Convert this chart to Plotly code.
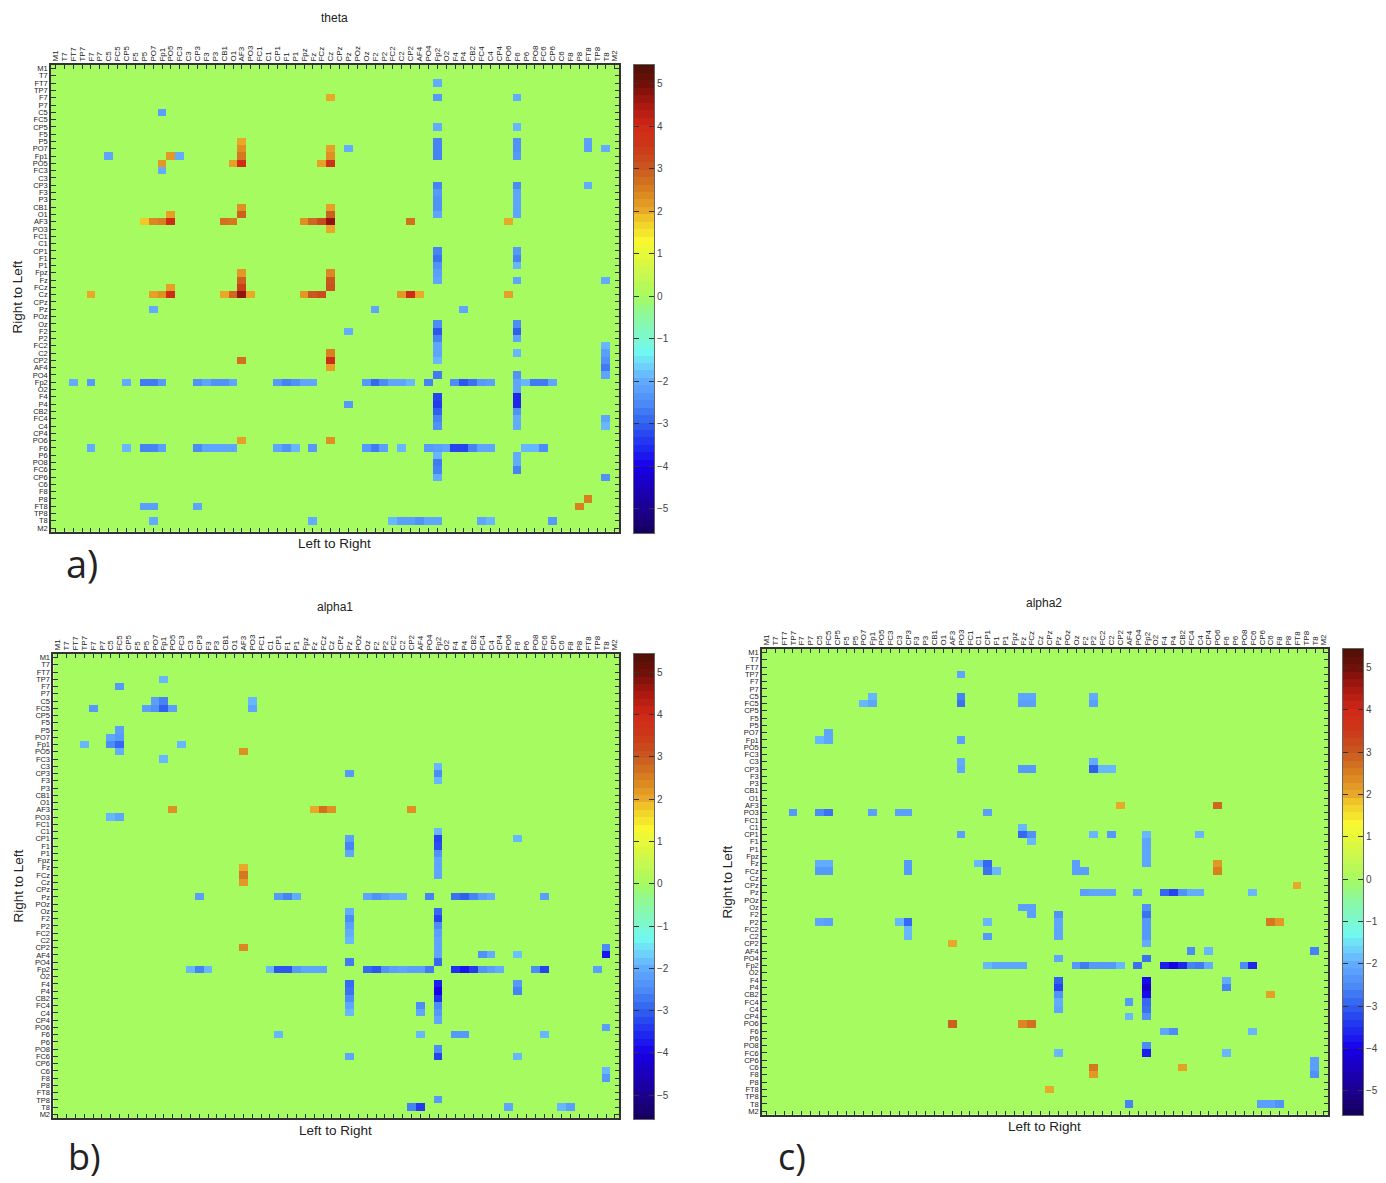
import numpy as np
import plotly.graph_objects as go

W, H = 1386, 1183

channels = ["M1","T7","FT7","TP7","F7","P7","C5","FC5","CP5","F5","P5","PO7","Fp1","PO5","FC3","C3",
            "CP3","F3","P3","CB1","O1","AF3","PO3","FC1","C1","CP1","F1","P1","Fpz","Fz","FCz","Cz",
            "CPz","Pz","POz","Oz","F2","P2","FC2","C2","CP2","AF4","PO4","Fp2","O2","F4","P4","CB2",
            "FC4","C4","CP4","PO6","F6","P6","PO8","FC6","CP6","C6","F8","P8","FT8","TP8","T8","M2"]

# (row, first column, values running along the row)
theta_h = [
    (4,31,[2.0]),(6,12,[-2.2]),(11,33,[-2.0]),(11,62,[-2.0]),(12,6,[-2.1]),(12,13,[2.2,-2.0]),
    (13,12,[2.2]),(13,20,[2.1,3.8]),(13,30,[2.1,3.7]),(14,12,[-2.0]),(16,60,[-2.0]),
    (20,13,[2.1]),(21,10,[1.8,2.4,2.5,3.9]),(21,19,[2.7,2.6]),(21,28,[2.3,2.8,3.2,4.7]),
    (21,40,[2.7]),(21,51,[2.0]),(22,31,[2.0]),(29,62,[-2.0]),(30,13,[2.1]),
    (31,4,[2.0]),(31,11,[2.1,2.3,3.8]),(31,19,[2.0,2.8,4.7,2.0]),(31,28,[2.2,3.0,3.2]),
    (31,39,[2.2,3.9,2.0]),(31,51,[2.1]),(33,11,[-2.0]),(33,36,[-2.1]),(33,46,[-2.1]),
    (36,33,[-2.0]),(39,52,[-1.9]),(40,21,[2.7]),(42,43,[-2.7]),
    (43,2,[-2.0]),(43,4,[-2.3]),(43,8,[-2.0]),(43,10,[-2.7,-2.7,-2.3]),(43,16,[-2.4,-2.1,-2.4,-2.4,-2.1]),
    (43,25,[-2.3,-2.6,-2.4,-2.1,-2.1]),(43,35,[-2.3,-2.9,-2.5,-2.1,-2.1,-1.9]),(43,42,[-2.6]),
    (43,45,[-2.5,-3.1,-2.8,-2.3,-2.2]),(43,53,[-1.9,-2.7,-2.7,-2.1]),(46,33,[-2.3]),
    (51,21,[2.1]),(51,31,[2.3]),(52,4,[-2.0]),(52,8,[-1.9]),(52,10,[-2.6,-2.6,-2.2]),
    (52,16,[-2.5,-2.1,-2.1,-2.1,-2.1]),(52,25,[-2.1,-2.4,-1.9]),(52,29,[-2.3]),(52,35,[-2.3,-2.7,-2.2]),
    (52,39,[-1.9]),(52,42,[-2.3,-2.2,-2.1,-3.3,-3.3,-2.6,-2.1,-2.1]),(52,53,[-1.9,-1.9,-2.5]),
    (56,62,[-2.4]),(59,60,[2.5]),(60,59,[2.5]),(60,10,[-2.2,-2.2]),(60,16,[-2.1]),
    (62,11,[-2.0]),(62,29,[-2.0]),(62,38,[-1.9,-2.2,-2.2,-2.4,-2.1,-2.1]),(62,48,[-2.1,-1.9]),(62,56,[-2.3]),
]
# (column, first row, values running down the column)
theta_v = [
    (43,2,[-2.0]),(43,4,[-2.3]),(52,4,[-2.0]),(43,8,[-2.0]),(52,8,[-1.9]),
    (21,10,[2.0,2.3,2.6,3.8]),(31,11,[2.1,2.3,3.7]),(43,10,[-2.6,-2.6,-2.6]),(52,10,[-2.4,-2.4,-2.3]),
    (60,10,[-2.2,-2.2]),(62,11,[-2.0]),(43,16,[-2.6,-2.3,-2.4,-2.4,-2.1]),(52,16,[-2.5,-2.1,-2.1,-2.1,-2.1]),
    (21,19,[2.3,2.9]),(31,19,[2.1,2.9,4.7,2.0]),(43,25,[-2.6,-2.8,-2.4,-2.2,-2.1]),(52,25,[-2.3,-2.6,-1.9]),
    (52,29,[-2.1]),(21,28,[2.2,2.9,3.4,4.7]),(31,28,[2.4,3.0,3.1]),
    (43,35,[-2.5,-3.1,-2.6,-2.1,-2.1,-1.9]),(52,35,[-2.5,-3.0,-2.1]),(62,38,[-1.9,-2.2,-2.4,-2.7,-2.1]),
    (31,39,[2.5,3.9,2.1]),(52,42,[-2.4,-2.1,-2.1]),(43,45,[-3.3,-3.4,-3.0,-2.6,-2.4]),
    (52,45,[-3.6,-3.6,-2.4,-2.0,-2.0]),(62,48,[-2.1,-1.9]),(43,53,[-1.9,-2.7,-2.6,-2.0]),(52,53,[-2.0,-2.0,-2.6]),
]

alpha1_h = [
    (3,12,[-1.9]),(4,7,[-2.3]),(6,11,[-2.2,-2.6]),(7,4,[-2.3]),(7,10,[-2.2,-2.4,-3.0,-2.2]),
    (12,3,[-1.9]),(12,14,[-1.9]),(13,21,[2.3]),(14,12,[-1.9]),(16,33,[-2.3]),(21,13,[2.3]),
    (21,29,[2.0,2.7,2.3]),(21,40,[2.3]),(22,6,[-1.9,-2.1]),(25,52,[-1.9]),(40,21,[2.4]),
    (33,16,[-2.2]),(33,25,[-2.3,-2.6,-2.0]),(33,35,[-2.1,-2.4,-2.2,-2.0,-2.0]),(33,42,[-2.6]),
    (33,45,[-2.8,-3.0,-2.6,-2.2,-2.0]),(33,55,[-2.2]),(41,48,[-2.4,-2.0]),(41,52,[-1.8]),(42,33,[-2.7]),
    (43,15,[-1.9,-2.6,-1.9]),(43,24,[-1.9,-3.1,-3.1,-2.3,-2.1,-2.1,-2.1]),
    (43,35,[-2.9,-3.1,-2.4,-2.2,-2.1,-2.2,-2.2,-2.7]),(43,45,[-3.5,-3.8,-3.4,-2.4,-2.2,-2.0]),
    (43,54,[-2.5,-3.3]),(43,61,[-2.2]),(51,62,[-2.2]),(52,41,[-1.9]),(52,45,[-2.3,-2.3]),(52,55,[-1.9]),
    (52,25,[-1.9]),(55,33,[-2.1]),(55,52,[-1.9]),(61,43,[-2.3]),(62,40,[-2.6,-3.4]),(62,51,[-2.1]),(62,57,[-1.9,-2.2]),
]
alpha1_v = [
    (22,6,[-1.9,-2.1]),(7,10,[-2.2,-2.3,-2.9,-2.0]),(6,11,[-2.1,-2.5]),(43,15,[-1.9,-2.5,-1.9]),
    (33,25,[-2.2,-2.6,-2.1]),(43,24,[-1.9,-3.3,-3.2,-2.4,-2.1,-2.1,-2.1]),(21,29,[2.0,2.6,2.2]),
    (33,35,[-2.0,-2.5,-2.2,-2.0,-1.9]),(43,35,[-2.9,-3.3,-2.5,-2.2,-2.1,-2.1,-2.1,-2.9]),
    (62,40,[-2.5,-3.8]),(33,45,[-2.9,-2.8,-2.5,-2.1,-1.9]),(43,45,[-3.7,-4.0,-3.5,-2.5,-2.3,-2.1]),
    (41,48,[-2.5,-2.1]),(52,45,[-2.3,-2.6]),(43,54,[-2.5,-3.3]),(62,57,[-1.9,-2.3]),
]

alpha2_h = [
    (3,22,[-2.1]),(7,11,[-1.9]),(12,6,[-1.9]),(12,22,[-2.2]),(16,38,[-1.9,-1.9]),(21,40,[2.0]),(21,51,[2.8]),
    (22,3,[-2.3]),(22,6,[-2.5,-2.8]),(22,12,[-2.2]),(22,15,[-2.2,-2.2]),(22,25,[-2.2]),
    (25,22,[-2.2]),(25,37,[-1.9]),(25,39,[-2.3]),(25,49,[-1.9]),(29,24,[-1.9]),(30,26,[-1.9]),
    (30,36,[-2.2]),(32,60,[2.0]),(35,29,[-2.2,-2.2]),(37,6,[-2.1,-2.2]),(37,15,[-1.9,-2.9]),
    (37,25,[-1.9]),(37,57,[2.6,2.2]),(39,25,[-2.3]),(40,21,[2.0]),
    (33,36,[-2.2,-2.1,-2.1,-2.1]),(33,42,[-2.1]),(33,45,[-2.9,-3.3,-2.4,-2.0,-2.0]),(33,55,[-1.9]),
    (41,48,[-2.5]),(41,50,[-1.9]),(41,62,[-2.6]),(42,33,[-2.1]),(42,43,[-2.8]),
    (43,25,[-1.9,-2.1,-2.1,-2.1,-2.1]),(43,35,[-2.3,-2.7,-2.3,-2.3,-2.3,-1.9]),(43,42,[-2.8]),
    (43,45,[-3.7,-4.0,-3.6,-2.6,-2.7,-2.0]),(43,54,[-2.5,-3.6]),(47,57,[2.1]),(48,41,[-2.3]),(50,41,[-1.9]),
    (51,21,[2.9]),(51,29,[2.4,2.7]),(52,45,[-2.1,-2.5]),(52,55,[-1.9]),(55,33,[-1.9]),(55,52,[-1.9]),
    (57,47,[2.1]),(60,32,[2.0]),(62,41,[-2.6]),(62,56,[-2.2,-2.2,-2.4]),
]
alpha2_v = [
    (12,6,[-1.9,-2.1]),(22,6,[-2.6,-2.8]),(29,6,[-2.1,-2.2]),(30,6,[-2.1,-2.2]),(37,6,[-2.0,-2.2]),
    (7,11,[-2.1,-2.1]),(22,15,[-2.0,-2.1]),(29,16,[-2.3]),(30,16,[-2.3]),(37,15,[-2.0,-3.0]),
    (29,24,[-1.9,-2.9]),(30,25,[-2.4,-1.9]),(43,25,[-1.9,-2.1,-2.1,-2.1,-2.1]),
    (6,29,[-2.0,-2.3]),(7,29,[-2.0,-2.3]),(16,29,[-2.3,-2.3]),(25,29,[-2.9,-2.8]),(35,29,[-2.2,-2.2]),
    (51,29,[2.2,2.5]),(30,35,[-2.2,-2.2]),(33,36,[-2.4,-2.1,-2.1,-2.1]),(16,37,[-2.9,-1.9,-1.9]),
    (43,35,[-2.4,-2.8,-2.3,-2.3,-2.3,-2.0]),(33,45,[-3.0,-3.3,-2.4,-2.0,-2.1]),
    (43,45,[-3.9,-4.3,-3.9,-2.9,-2.8,-2.4]),(52,45,[-2.0,-2.6]),(43,54,[-2.5,-3.7]),
    (37,57,[2.6,2.2]),(62,56,[-2.2,-2.2,-2.4]),
]

colour_values = [-5.6,-5,-4,-3.5,-3,-2.5,-2,-1.6,-1.3,-1,-0.5,0,0.5,1,1.3,1.8,2,2.5,3,3.5,4,4.5,5,5.6]
colour_hex = ["#14005a","#1c0090","#1800e8","#2030f0","#3060f0","#4c8cf6","#62acff","#70d8f8","#70f8f0",
              "#7cf8d0","#8cf8a0","#a6fb60","#c8f850","#e8f838","#f8f830","#f0c828","#e8a828","#d88020",
              "#c85820","#cc3818","#d02818","#a81810","#701008","#401008"]
colorbar_ticks = [-5,-4,-3,-2,-1,0,1,2,3,4,5]

ZMIN, ZMAX = -5.6, 5.6
TEXT = "#222222"
AXIS = "#333333"
FONT = "Liberation Sans, Arial, sans-serif"


def grid(h_runs, v_runs):
    z = np.zeros((64, 64))
    for r, c, vals in h_runs:
        z[r, c:c + len(vals)] = vals
    for c, r, vals in v_runs:
        z[r:r + len(vals), c] = vals
    return z


def dom_x(a, b):
    return [a / W, b / W]


def dom_y(top, bottom):
    return [1 - bottom / H, 1 - top / H]


colorscale = [[(v - ZMIN) / (ZMAX - ZMIN), c] for v, c in zip(colour_values, colour_hex)]
levels = (np.arange(64) + 0.5) / 64 * (ZMAX - ZMIN) + ZMIN

panels = [
    dict(data=(theta_h, theta_v), box=(51, 619.3, 64, 531.7), cb=(634, 654, 64, 533),
         title=("theta", 334, 17), xl=("Left to Right", 334, 543), yl=("Right to Left", 17, 297),
         tag=("a)", 82, 563, 38)),
    dict(data=(alpha1_h, alpha1_v), box=(53.3, 619.3, 654, 1119), cb=(634, 654, 654, 1120),
         title=("alpha1", 335, 607), xl=("Left to Right", 335, 1131), yl=("Right to Left", 19, 887),
         tag=("b)", 84, 1157, 36)),
    dict(data=(alpha2_h, alpha2_v), box=(762, 1328.3, 649, 1115.7), cb=(1343, 1363, 649, 1116),
         title=("alpha2", 1044, 603), xl=("Left to Right", 1044, 1127), yl=("Right to Left", 728, 883),
         tag=("c)", 792, 1157, 36)),
]

fig = go.Figure()
layout = dict(
    width=W, height=H, margin=dict(l=0, r=0, t=0, b=0), paper_bgcolor="white", plot_bgcolor="white",
    coloraxis=dict(colorscale=colorscale, cmin=ZMIN, cmax=ZMAX, showscale=False),
    font=dict(family=FONT, color=TEXT), showlegend=False,
)
annotations = []


def note(text, px, py, size, angle=0, family=FONT):
    annotations.append(dict(text=text, x=px / W, y=1 - py / H, xref="paper", yref="paper",
                            xanchor="center", yanchor="middle", showarrow=False, textangle=angle,
                            font=dict(size=size, family=family, color=TEXT)))


n = 1
for p in panels:
    xa, ya = ("x", "y") if n == 1 else (f"x{n}", f"y{n}")
    xk, yk = ("xaxis", "yaxis") if n == 1 else (f"xaxis{n}", f"yaxis{n}")
    idx = list(range(len(channels)))
    fig.add_trace(go.Heatmap(z=grid(*p["data"]), x=idx, y=idx, coloraxis="coloraxis",
                             xaxis=xa, yaxis=ya, hoverongaps=False))
    x0, x1, y0, y1 = p["box"]
    layout[xk] = dict(domain=dom_x(x0, x1), range=[-0.5, 63.5], side="top", tickmode="array", tickvals=idx,
                      ticktext=channels, tickangle=-90, ticks="inside", ticklen=4, tickwidth=1, tickcolor=AXIS,
                      tickfont=dict(size=8, color=TEXT), showline=True, linecolor=AXIS, linewidth=1.5,
                      mirror="ticks", showgrid=False, zeroline=False, anchor=ya)
    layout[yk] = dict(domain=dom_y(y0, y1), range=[63.5, -0.5], tickmode="array", tickvals=idx,
                      ticktext=channels, ticks="inside", ticklen=5, tickwidth=1, tickcolor=AXIS,
                      tickfont=dict(size=7.5, color=TEXT), showline=True, linecolor=AXIS, linewidth=1.5,
                      mirror="ticks", showgrid=False, zeroline=False, anchor=xa)
    n += 1

    xa, ya = f"x{n}", f"y{n}"
    xk, yk = f"xaxis{n}", f"yaxis{n}"
    fig.add_trace(go.Heatmap(z=[[v] for v in levels], x=[0], y=levels, coloraxis="coloraxis",
                             xaxis=xa, yaxis=ya, hoverinfo="skip"))
    cx0, cx1, cy0, cy1 = p["cb"]
    layout[xk] = dict(domain=dom_x(cx0, cx1), range=[-0.5, 0.5], showticklabels=False, ticks="",
                      showline=True, linecolor="#666666", linewidth=1, mirror=True, showgrid=False,
                      zeroline=False, anchor=ya)
    layout[yk] = dict(domain=dom_y(cy0, cy1), range=[-5.57, 5.44], side="right", tickmode="array",
                      tickvals=colorbar_ticks, ticks="inside", ticklen=5, tickwidth=1, tickcolor="#333333",
                      tickfont=dict(size=10, color="#444444"), showline=True, linecolor="#666666", linewidth=1,
                      mirror="ticks", showgrid=False, zeroline=False, anchor=xa)
    n += 1

    t, tx, ty = p["title"]
    note(t, tx, ty, 12)
    t, tx, ty = p["xl"]
    note(t, tx, ty, 13.5)
    t, tx, ty = p["yl"]
    note(t, tx, ty, 13.5, angle=-90)
    t, tx, ty, ts = p["tag"]
    note(t, tx, ty, ts, family="Open Sans, sans-serif")

layout["annotations"] = annotations
fig.update_layout(**layout)
fig.write_html("out.html", config=dict(displayModeBar=False),
               post_script="document.body.style.margin='0';document.body.style.overflow='hidden';")
